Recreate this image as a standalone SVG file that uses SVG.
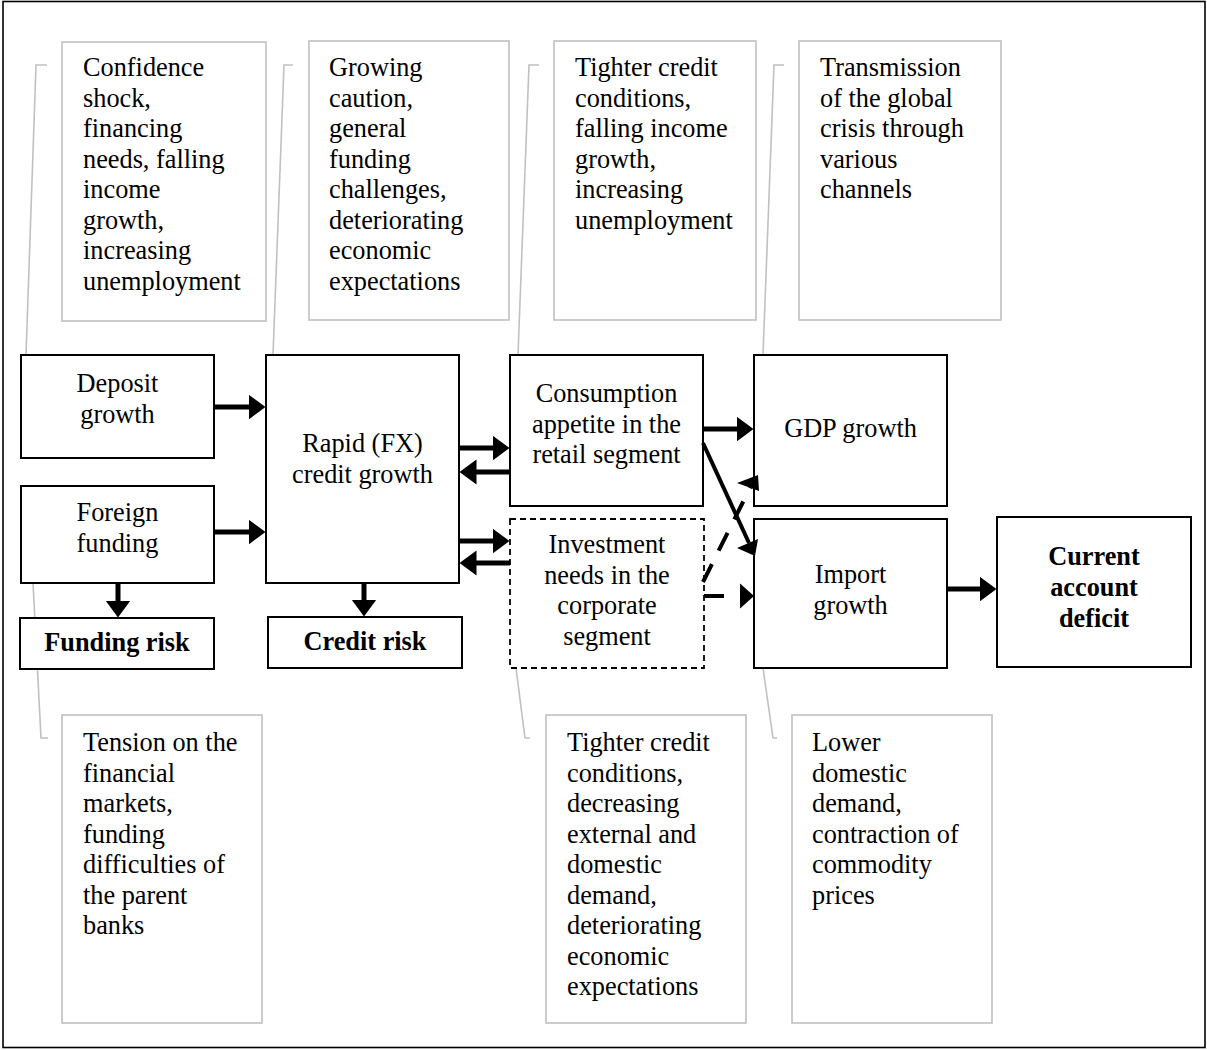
<svg xmlns="http://www.w3.org/2000/svg" width="1207" height="1050" viewBox="0 0 1207 1050">
<style>
text{font-family:"Liberation Serif","Times New Roman",serif;font-size:26.3px;fill:#000}
.c{text-anchor:middle}
.b{font-weight:bold}
.note{fill:#fff;stroke:#c0c0c0;stroke-width:1.6}
.lead{fill:none;stroke:#c0c0c0;stroke-width:1.6}
.box{fill:#fff;stroke:#000;stroke-width:2}
.dbox{fill:#fff;stroke:#000;stroke-width:1.8;stroke-dasharray:6,4}
.arr{stroke:#000;stroke-width:5;fill:none}
.dash{stroke:#000;stroke-width:4;fill:none;stroke-dasharray:20,15}
.head{fill:#000}
</style>
<defs>
<marker id="ah" markerUnits="userSpaceOnUse" markerWidth="18" markerHeight="26" refX="0.5" refY="12.5" orient="auto">
<path d="M0,0 L17,12.5 L0,25 z" fill="#000"/>
</marker>
</defs>
<rect x="3" y="1.5" width="1202" height="1046" fill="#fff" stroke="#000" stroke-width="1.6"/>

<g id="leaders">
<polyline class="lead" points="47,65 36,65 26,355"/>
<polyline class="lead" points="293,65 284,65 273,355"/>
<polyline class="lead" points="539,65 529,65 518,355"/>
<polyline class="lead" points="784,65 774,65 763,355"/>
<polyline class="lead" points="33,583 41,738 48,738"/>
<polyline class="lead" points="516,668 525,738 530,738"/>
<polyline class="lead" points="763,668 773,738 777,738"/>
</g>

<g id="note1"><rect class="note" x="62" y="42" width="204" height="279"/>
<text x="83" y="76">Confidence</text><text x="83" y="106.5">shock,</text><text x="83" y="137">financing</text><text x="83" y="167.5">needs, falling</text><text x="83" y="198">income</text><text x="83" y="228.5">growth,</text><text x="83" y="259">increasing</text><text x="83" y="289.5">unemployment</text></g>
<g id="note2"><rect class="note" x="309" y="41" width="200" height="279"/>
<text x="329" y="76">Growing</text><text x="329" y="106.5">caution,</text><text x="329" y="137">general</text><text x="329" y="167.5">funding</text><text x="329" y="198">challenges,</text><text x="329" y="228.5">deteriorating</text><text x="329" y="259">economic</text><text x="329" y="289.5">expectations</text></g>
<g id="note3"><rect class="note" x="554" y="41" width="202" height="279"/>
<text x="575" y="76">Tighter credit</text><text x="575" y="106.5">conditions,</text><text x="575" y="137">falling income</text><text x="575" y="167.5">growth,</text><text x="575" y="198">increasing</text><text x="575" y="228.5">unemployment</text></g>
<g id="note4"><rect class="note" x="799" y="41" width="202" height="279"/>
<text x="820" y="76">Transmission</text><text x="820" y="106.5">of the global</text><text x="820" y="137">crisis through</text><text x="820" y="167.5">various</text><text x="820" y="198">channels</text></g>
<g id="note5"><rect class="note" x="62" y="715" width="200" height="308"/>
<text x="83" y="751">Tension on the</text><text x="83" y="781.5">financial</text><text x="83" y="812">markets,</text><text x="83" y="842.5">funding</text><text x="83" y="873">difficulties of</text><text x="83" y="903.5">the parent</text><text x="83" y="934">banks</text></g>
<g id="note6"><rect class="note" x="546" y="715" width="200" height="308"/>
<text x="567" y="751">Tighter credit</text><text x="567" y="781.5">conditions,</text><text x="567" y="812">decreasing</text><text x="567" y="842.5">external and</text><text x="567" y="873">domestic</text><text x="567" y="903.5">demand,</text><text x="567" y="934">deteriorating</text><text x="567" y="964.5">economic</text><text x="567" y="995">expectations</text></g>
<g id="note7"><rect class="note" x="792" y="715" width="200" height="308"/>
<text x="812" y="751">Lower</text><text x="812" y="781.5">domestic</text><text x="812" y="812">demand,</text><text x="812" y="842.5">contraction of</text><text x="812" y="873">commodity</text><text x="812" y="903.5">prices</text></g>

<g id="deposit"><rect class="box" x="21" y="355" width="193" height="103"/>
<text class="c" x="117.5" y="392">Deposit</text><text class="c" x="117.5" y="422.5">growth</text></g>
<g id="foreign"><rect class="box" x="21" y="486" width="193" height="97"/>
<text class="c" x="117.5" y="521">Foreign</text><text class="c" x="117.5" y="551.5">funding</text></g>
<g id="fundingrisk"><rect class="box" x="20" y="618" width="194" height="51"/>
<text class="c b" x="117" y="651">Funding risk</text></g>
<g id="rapid"><rect class="box" x="266" y="355" width="193" height="228"/>
<text class="c" x="362.5" y="452">Rapid (FX)</text><text class="c" x="362.5" y="482.5">credit growth</text></g>
<g id="creditrisk"><rect class="box" x="268" y="617" width="194" height="51"/>
<text class="c b" x="365" y="650">Credit risk</text></g>
<g id="consumption"><rect class="box" x="510" y="355" width="193" height="151"/>
<text class="c" x="606.5" y="402">Consumption</text><text class="c" x="606.5" y="432.5">appetite in the</text><text class="c" x="606.5" y="463">retail segment</text></g>
<g id="investment"><rect class="dbox" x="510" y="519" width="194" height="149"/>
<text class="c" x="607" y="553">Investment</text><text class="c" x="607" y="583.5">needs in the</text><text class="c" x="607" y="614">corporate</text><text class="c" x="607" y="644.5">segment</text></g>
<g id="gdp"><rect class="box" x="754" y="355" width="193" height="151"/>
<text class="c" x="850.5" y="437">GDP growth</text></g>
<g id="import"><rect class="box" x="754" y="519" width="193" height="149"/>
<text class="c" x="850.5" y="583">Import</text><text class="c" x="850.5" y="613.5">growth</text></g>
<g id="cad"><rect class="box" x="997" y="517" width="194" height="150"/>
<text class="c b" x="1094" y="565">Current</text><text class="c b" x="1094" y="596">account</text><text class="c b" x="1094" y="626.5">deficit</text></g>

<g id="connectors">
<line class="arr" x1="214" y1="407" x2="249" y2="407" marker-end="url(#ah)"/>
<line class="arr" x1="214" y1="532" x2="249" y2="532" marker-end="url(#ah)"/>
<line class="arr" x1="459" y1="448" x2="493" y2="448" marker-end="url(#ah)"/>
<line class="arr" x1="510" y1="472" x2="476" y2="472" marker-end="url(#ah)"/>
<line class="arr" x1="459" y1="541" x2="493" y2="541" marker-end="url(#ah)"/>
<line class="arr" x1="510" y1="563" x2="476" y2="563" marker-end="url(#ah)"/>
<line class="arr" x1="364" y1="583" x2="364" y2="600" marker-end="url(#ah)"/>
<line class="arr" x1="118" y1="583" x2="118" y2="601" marker-end="url(#ah)"/>
<line class="arr" x1="703" y1="429" x2="737" y2="429" marker-end="url(#ah)"/>
<line class="arr" x1="947" y1="589" x2="980" y2="589" marker-end="url(#ah)"/>
<line x1="703" y1="443" x2="749" y2="543" stroke="#000" stroke-width="4"/>
<polygon class="head" points="737,548 758,539 755,556"/>
<line class="dash" x1="703" y1="582" x2="751" y2="486"/>
<polygon class="head" points="737,483 758,475 759,491"/>
<line x1="704" y1="596" x2="724" y2="596" stroke="#000" stroke-width="4"/>
<polygon class="head" points="740,583.5 754,596 740,608.5"/>
</g>
</svg>
